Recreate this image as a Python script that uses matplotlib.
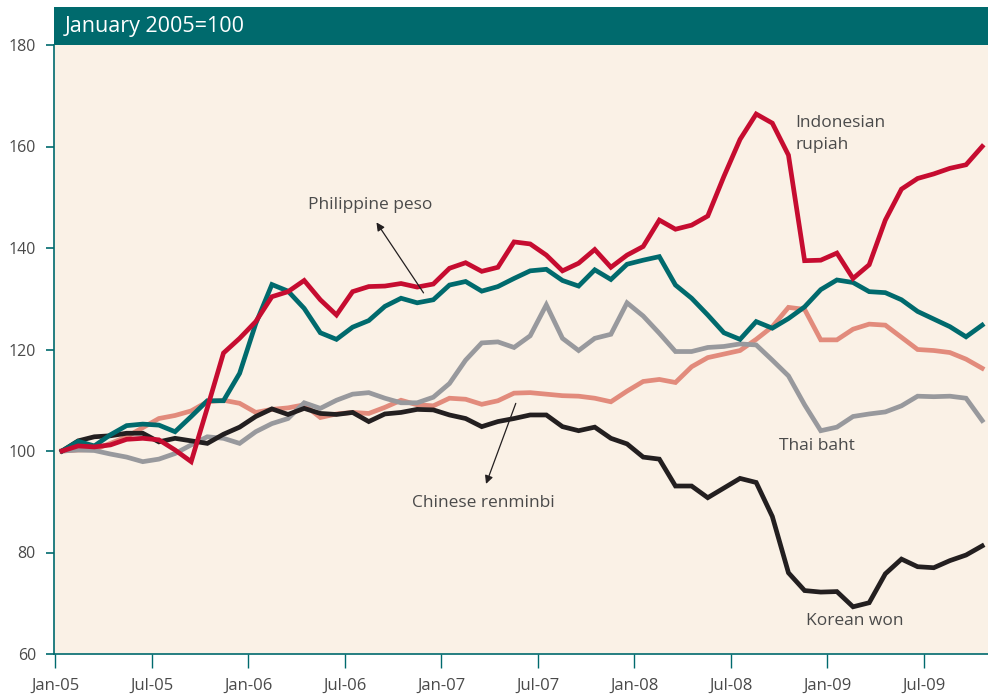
import numpy as np
import matplotlib
matplotlib.use("Agg")
import matplotlib.pyplot as plt

# indices mensais, janeiro 2005 = 100 (jan-05 ate out-09)
meses = ["Jan-05", "Jul-05", "Jan-06", "Jul-06", "Jan-07",
         "Jul-07", "Jan-08", "Jul-08", "Jan-09", "Jul-09"]

rupiah = [100, 101.0, 100.8, 101.2, 102.3, 102.5, 102.2, 100.2, 97.9, 108.5,
          119.3, 122.2, 125.5, 130.4, 131.4, 133.6, 129.8, 126.8, 131.4, 132.4,
          132.5, 133.0, 132.3, 132.9, 136.0, 137.1, 135.4, 136.2, 141.2, 140.8,
          138.6, 135.5, 137.0, 139.7, 136.2, 138.6, 140.3, 145.5, 143.7, 144.5,
          146.3, 154.1, 161.4, 166.4, 164.6, 158.3, 137.5, 137.6, 139.0, 134.0,
          136.7, 145.5, 151.6, 153.7, 154.6, 155.7, 156.4, 160.0]

peso = [100, 101.9, 101.0, 103.2, 105.0, 105.3, 105.1, 103.8, 106.8, 109.9,
        109.9, 115.3, 125.1, 132.8, 131.5, 128.1, 123.3, 122.0, 124.4, 125.7,
        128.5, 130.1, 129.2, 129.8, 132.7, 133.4, 131.5, 132.4, 134.0, 135.5,
        135.8, 133.6, 132.5, 135.7, 133.8, 136.8, 137.6, 138.3, 132.7, 130.1,
        126.8, 123.3, 122.0, 125.5, 124.2, 126.1, 128.4, 131.8, 133.7, 133.2,
        131.4, 131.2, 129.8, 127.5, 126.0, 124.5, 122.5, 124.8]

renminbi = [100, 100.2, 100.3, 101.5, 102.8, 104.6, 106.4, 107.0, 107.9, 109.7,
            110.0, 109.4, 107.6, 108.2, 108.5, 109.1, 106.6, 107.3, 107.6, 107.4,
            108.6, 110.0, 109.1, 108.9, 110.4, 110.2, 109.2, 109.9, 111.4, 111.5,
            111.2, 110.9, 110.8, 110.4, 109.7, 111.8, 113.7, 114.1, 113.5, 116.6,
            118.4, 119.1, 119.8, 122.0, 124.5, 128.3, 127.9, 121.9, 121.9, 124.0,
            125.0, 124.8, 122.4, 120.0, 119.8, 119.4, 118.1, 116.3]

baht = [100, 100.2, 100.1, 99.4, 98.8, 97.9, 98.4, 99.5, 101.2, 102.8,
        102.5, 101.5, 103.8, 105.4, 106.4, 109.5, 108.4, 110.0, 111.2, 111.5,
        110.4, 109.5, 109.5, 110.6, 113.3, 117.9, 121.3, 121.5, 120.4, 122.7,
        128.8, 122.2, 119.8, 122.2, 123.0, 129.2, 126.6, 123.2, 119.6, 119.6,
        120.4, 120.6, 121.1, 120.9, 117.9, 114.8, 109.1, 104.0, 104.7, 106.8,
        107.3, 107.7, 108.9, 110.8, 110.7, 110.8, 110.4, 106.0]

won = [100, 102.0, 102.8, 103.0, 103.5, 103.5, 101.8, 102.5, 102.0, 101.5,
       103.3, 104.7, 106.8, 108.3, 107.2, 108.4, 107.4, 107.2, 107.6, 105.8,
       107.3, 107.6, 108.2, 108.1, 107.1, 106.4, 104.8, 105.8, 106.4, 107.1,
       107.1, 104.8, 104.0, 104.7, 102.5, 101.4, 98.8, 98.4, 93.1, 93.1,
       90.8, 92.7, 94.6, 93.8, 87.1, 76.0, 72.5, 72.2, 72.3, 69.3,
       70.1, 75.8, 78.7, 77.2, 77.0, 78.4, 79.5, 81.3]

# cores
FUNDO = "#faf1e6"
VERDE = "#006a6d"
VERMELHO = "#c60c30"
SALMAO = "#e28b7c"
CINZA = "#98999d"
PRETO = "#231f20"
TEXTO = "#4a4a4a"

plt.rcParams['font.family'] = ['Open Sans', 'DejaVu Sans']

fig = plt.figure(figsize=(9.88, 6.97), dpi=100)
ax = fig.add_axes([54 / 988, 1 - 654 / 697, 1 - 54 / 988, (654 - 45) / 697])
ax.set_facecolor(FUNDO)

# pontos no meio do mes
t = np.arange(len(won)) * 1.004 + 0.41

lw = 3.4
ax.plot(t, renminbi, color=SALMAO, lw=lw, solid_joinstyle='miter', zorder=2)
ax.plot(t, baht, color=CINZA, lw=lw, solid_joinstyle='miter', zorder=3)
ax.plot(t, won, color=PRETO, lw=lw, solid_joinstyle='miter', zorder=4)
ax.plot(t, peso, color=VERDE, lw=lw, solid_joinstyle='miter', zorder=5)
ax.plot(t, rupiah, color=VERMELHO, lw=lw, solid_joinstyle='miter', zorder=6)

ax.set_xlim(-0.09, 58.0)
ax.set_ylim(60, 180)
ax.set_xticks(np.arange(0, 60, 6))
ax.set_xticklabels(meses)
ax.set_yticks(np.arange(60, 181, 20))

for lado in ['top', 'right']:
    ax.spines[lado].set_visible(False)
for lado in ['left', 'bottom']:
    ax.spines[lado].set_color(VERDE)
    ax.spines[lado].set_linewidth(1.2)

ax.tick_params(axis='y', colors=VERDE, length=6, width=1.2, pad=7,
               labelsize=11.5, labelcolor=TEXTO)
ax.tick_params(axis='x', colors=VERDE, length=10, width=1.0, pad=7,
               labelsize=12, labelcolor=TEXTO)

# rotulos das series
ax.text(46.0, 166.3, "Indonesian\nrupiah", fontsize=12.5, color=TEXTO,
        va='top', ha='left', linespacing=1.55)
ax.text(45.0, 101.0, "Thai baht", fontsize=12.5, color=TEXTO, va='center', ha='left')
ax.text(46.7, 66.5, "Korean won", fontsize=12.5, color=TEXTO, va='center', ha='left')
ax.text(19.6, 148.5, "Philippine peso", fontsize=12.5, color=TEXTO, va='center', ha='center')
ax.text(26.6, 89.7, "Chinese renminbi", fontsize=12.5, color=TEXTO, va='center', ha='center')

# setas
seta = dict(arrowstyle='-|>', color=PRETO, lw=0.9, mutation_scale=12)
ax.annotate("", xy=(19.87, 145.5), xytext=(22.99, 130.7), arrowprops=seta, zorder=7)
ax.annotate("", xy=(26.72, 93.0), xytext=(28.69, 109.9), arrowprops=seta, zorder=7)

# faixa do titulo
cab = fig.add_axes([54 / 988, 1 - 45 / 697, 1 - 54 / 988, 38 / 697])
cab.set_facecolor(VERDE)
cab.set_xticks([])
cab.set_yticks([])
for s in cab.spines.values():
    s.set_visible(False)
cab.text(0.012, 0.48, "January 2005=100", color="white", fontsize=15.5,
         va='center', ha='left', transform=cab.transAxes)

fig.savefig("out.png", dpi=100)
